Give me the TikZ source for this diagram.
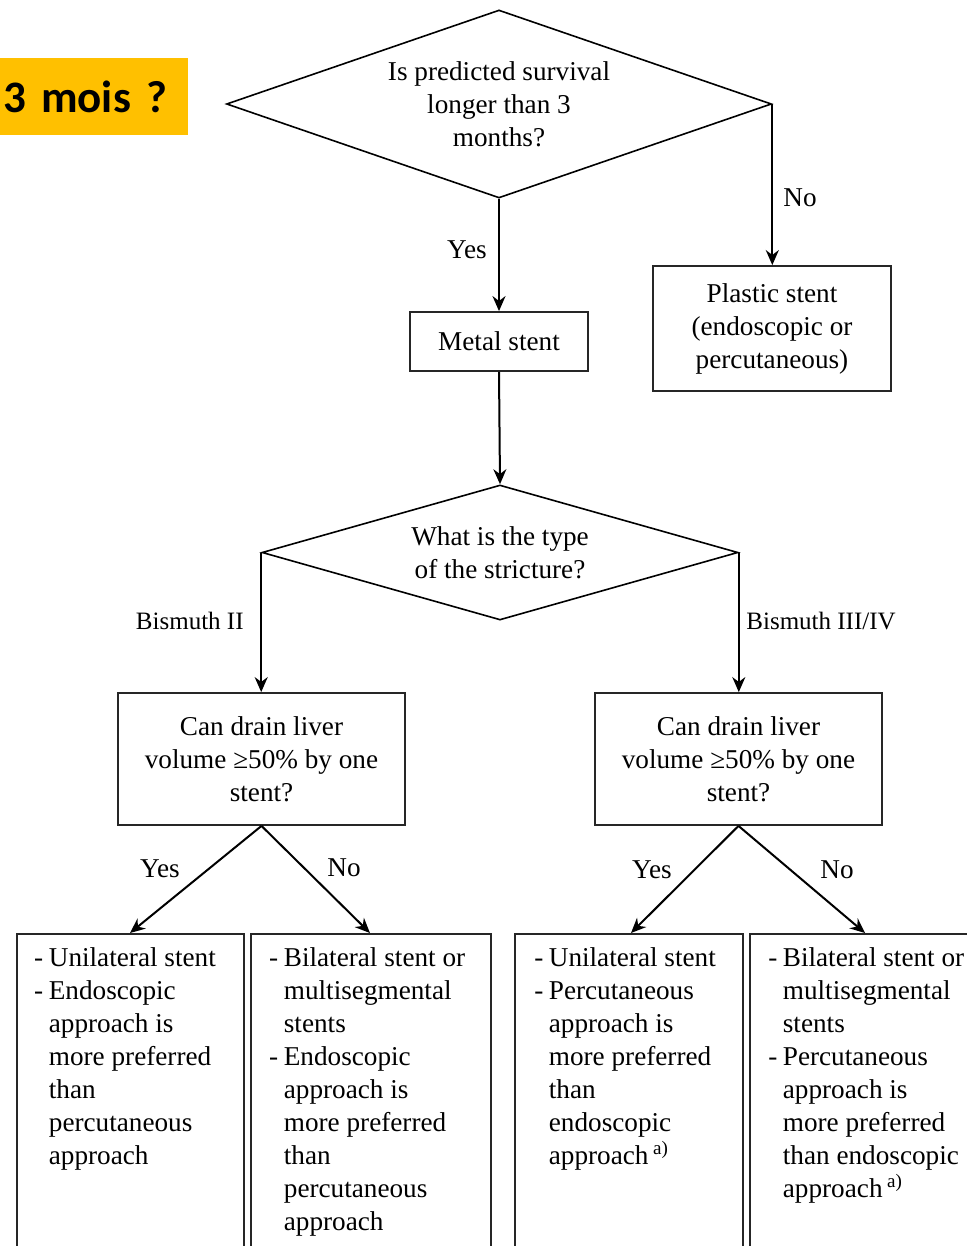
\documentclass[tikz,border=0pt]{standalone}
\usepackage{fontspec}
\setmainfont{Liberation Serif}
\newfontfamily\carl{Carlito}
\usetikzlibrary{shapes.geometric,arrows.meta,calc}
\definecolor{gold}{HTML}{FFC000}
\newcommand\dsh{\llap{-\hspace{2.8pt}}}
\newcommand\bx[3]{\parbox[c][170pt][t]{#1}{\leftskip=#2\relax\rightskip=0pt plus 1fil\relax\baselineskip=16.5pt\rule{0pt}{16.5pt}#3\par}}
\begin{document}
\begin{tikzpicture}[x=0.5pt,y=-0.5pt,
  every node/.style={font=\fontsize{13.6}{16.5}\selectfont, text=black},
  box/.style={draw=black!85, line width=0.9pt, align=center, inner sep=0pt},
  bbox/.style={draw=black!85, line width=0.9pt, inner sep=0pt, anchor=north west},
  dec/.style={draw=black, line width=0.8pt, diamond, align=center, inner sep=0pt},
  arr/.style={draw=black, line width=1pt, -{Stealth[length=7.5pt,width=6.5pt]}},
  lbl/.style={inner sep=0pt},
  blbl/.style={inner sep=0pt, font=\fontsize{12.5}{15}\selectfont}]
\useasboundingbox (0,0) rectangle (967,1246);
\clip (0,0) rectangle (967,1246);

% tag
\node[anchor=north west, fill=gold, minimum width=94pt, minimum height=38.5pt,
      inner xsep=1.5pt, text width=91pt, align=left,
      font=\carl\bfseries\fontsize{22.5}{26}\selectfont] (tag) at (0,58) {\raisebox{-1.5pt}{3 mois ?}};

% decisions
\node[dec, aspect=2.9, minimum width=272.5pt, minimum height=94pt] (d1) at (499,104)
  {Is predicted survival\\longer than 3\\months?};
\node[box, minimum width=119pt, minimum height=62.5pt] (plastic) at (772,328.5)
  {Plastic stent\\(endoscopic or\\percutaneous)};
\node[box, minimum width=89pt, minimum height=29.5pt] (metal) at (499,341.5) {Metal stent};
\node[dec, aspect=3.53, minimum width=238pt, minimum height=67.5pt] (d2) at (500,552.5)
  {What is the type\\of the stricture?};
\node[box, minimum width=143.5pt, minimum height=66pt] (bl) at (261.5,759)
  {Can drain liver\\volume ≥50\% by one\\stent?};
\node[box, minimum width=143.5pt, minimum height=66pt] (br) at (738.5,759)
  {Can drain liver\\volume ≥50\% by one\\stent?};

% bottom boxes
\node[bbox] (b1) at (16,933) {\bx{113.5pt}{16pt}{\dsh Unilateral stent\\\dsh Endoscopic\\approach is\\more preferred\\than\\percutaneous\\approach}};
\node[bbox] (b2) at (250,933) {\bx{120pt}{16.5pt}{\dsh Bilateral stent or\\multisegmental\\stents\\\dsh Endoscopic\\approach is\\more preferred\\than\\percutaneous\\approach}};
\node[bbox] (b3) at (514,933) {\bx{114pt}{17pt}{\dsh Unilateral stent\\\dsh Percutaneous\\approach is\\more preferred\\than\\endoscopic\\approach\,\textsuperscript{a)}}};
\node[bbox] (b4) at (749,933) {\bx{115pt}{16.5pt}{\dsh Bilateral stent or\\multisegmental\\stents\\\dsh Percutaneous\\approach is\\more preferred\\than endoscopic\\approach\,\textsuperscript{a)}}};

% connectors
\draw[arr] (d1.east) -- (d1.east |- plastic.north);
\draw[arr] (d1.south) -- (metal.north);
\draw[arr] (metal.south) -- (d2.north);
\draw[arr] (d2.west) -- (d2.west |- bl.north);
\draw[arr] (d2.east) -- (d2.east |- br.north);
\draw[arr] (bl.south) -- ([xshift=57pt]b1.north west);
\draw[arr] (bl.south) -- ([xshift=60pt]b2.north west);
\draw[arr] (br.south) -- ([xshift=58.5pt]b3.north west);
\draw[arr] (br.south) -- ([xshift=58pt]b4.north west);

% labels
\node[lbl] (lno1) at (800,198) {No};
\node[lbl] (lyes1) at (467,250) {Yes};
\node[blbl, anchor=east] (lbis2) at (244,621) {Bismuth II};
\node[blbl, anchor=west] (lbis34) at (746,621) {Bismuth III/IV};
\node[lbl] (lyes2) at (160,869) {Yes};
\node[lbl] (lno2) at (344,868) {No};
\node[lbl] (lyes3) at (652,870) {Yes};
\node[lbl] (lno3) at (837,870) {No};
\end{tikzpicture}
\end{document}
